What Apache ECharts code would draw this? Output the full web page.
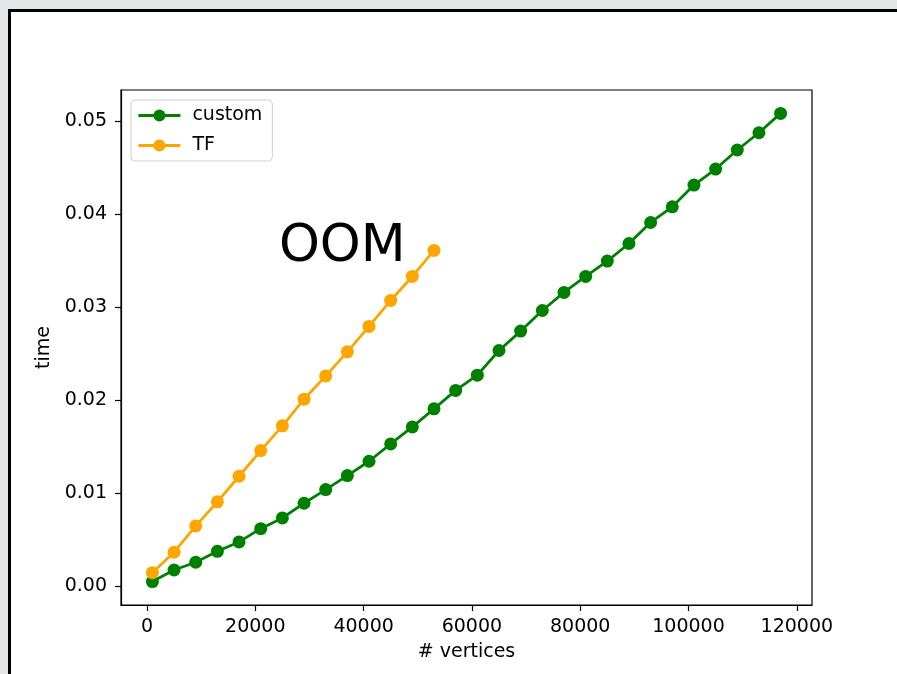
<!DOCTYPE html>
<html>
<head>
<meta charset="utf-8">
<title>custom vs TF</title>
<script src="https://cdn.jsdelivr.net/npm/echarts@6/dist/echarts.min.js"></script>
<style>
  html, body { margin: 0; padding: 0; width: 897px; height: 674px; overflow: hidden; background: #e5e6e8; }
  #frame {
    position: absolute; left: 8px; top: 9px; width: 1200px; height: 1000px;
    background: #fff; border-top: 3px solid #000; border-left: 3px solid #000;
  }
  #chart { position: absolute; left: 0; top: 0; width: 897px; height: 674px; }
</style>
</head>
<body>
<div id="frame"></div>
<div id="chart"></div>
<script>
// number of vertices per run
const vertices = [1000, 5000, 9000, 13000, 17000, 21000, 25000, 29000, 33000, 37000,
                  41000, 45000, 49000, 53000, 57000, 61000, 65000, 69000, 73000, 77000,
                  81000, 85000, 89000, 93000, 97000, 101000, 105000, 109000, 113000, 117000];
// run time of the custom implementation
const customTime = [0.00047, 0.00172, 0.00255, 0.00373, 0.00474, 0.00617, 0.00732, 0.00890, 0.01037, 0.01188,
                    0.01342, 0.01529, 0.01712, 0.01906, 0.02105, 0.02269, 0.02534, 0.02743, 0.02965, 0.03159,
                    0.03331, 0.03497, 0.03686, 0.03912, 0.04081, 0.04315, 0.04487, 0.04692, 0.04878, 0.05086];
// run time of TF, which runs out of memory past 53000 vertices
const tfTime = [0.00143, 0.00363, 0.00646, 0.00905, 0.01181, 0.01457, 0.01723, 0.02010, 0.02261, 0.02520,
                0.02793, 0.03073, 0.03331, 0.03611];
const xTicks = [0, 20000, 40000, 60000, 80000, 100000, 120000];
const yTicks = [0, 0.01, 0.02, 0.03, 0.04, 0.05];
const oomNote = { x: 25000, y: 0.035, text: 'OOM' };

const FONT = 'DejaVu Sans';
const xs = vertices, ys = customTime.concat(tfTime);
const xMinD = Math.min(...xs), xMaxD = Math.max(...xs);
const yMinD = Math.min(...ys), yMaxD = Math.max(...ys);
const xPad = (xMaxD - xMinD) * 0.05, yPad = (yMaxD - yMinD) * 0.05;

const pairs = (vals) => vals.map((v, i) => [vertices[i], v]);

const axisCommon = {
  axisLine: { show: true, onZero: false, lineStyle: { color: '#000', width: 1.2 } },
  splitLine: { show: false }
};

const chart = echarts.init(document.getElementById('chart'), null, { renderer: 'canvas' });
chart.setOption({
  animation: false,
  textStyle: { fontFamily: FONT },
  grid: {
    left: 121, right: 85, top: 90, bottom: 69,
    show: true, borderColor: '#000', borderWidth: 1.2, backgroundColor: 'transparent'
  },
  legend: {
    data: ['custom', 'TF'],
    orient: 'vertical',
    left: 131, top: 100,
    itemWidth: 42, itemHeight: 15, itemGap: 11,
    padding: [6, 10, 6, 6],
    backgroundColor: '#fff',
    borderColor: '#d0d0d0', borderWidth: 1, borderRadius: 4,
    lineStyle: { width: 2.8 },
    textStyle: { fontFamily: FONT, fontSize: 19, color: '#000', padding: [0, 0, 0, 7] }
  },
  xAxis: Object.assign({
    type: 'value',
    min: xMinD - xPad, max: xMaxD + xPad,
    name: '# vertices', nameLocation: 'middle', nameGap: 38,
    nameTextStyle: { fontFamily: FONT, fontSize: 19, color: '#000' },
    axisTick: { show: true, length: 6, lineStyle: { color: '#000', width: 1.2 }, customValues: xTicks },
    axisLabel: { fontFamily: FONT, fontSize: 19, color: '#000', margin: 13, customValues: xTicks,
                 formatter: (v) => String(Math.round(v)) }
  }, axisCommon),
  yAxis: Object.assign({
    type: 'value',
    min: yMinD - yPad, max: yMaxD + yPad,
    name: 'time', nameLocation: 'middle', nameGap: 58, nameRotate: 90,
    nameTextStyle: { fontFamily: FONT, fontSize: 19, color: '#000' },
    axisTick: { show: true, length: 6, lineStyle: { color: '#000', width: 1.2 }, customValues: yTicks },
    axisLabel: { fontFamily: FONT, fontSize: 19, color: '#000', margin: 14, customValues: yTicks,
                 padding: [5, 0, 0, 0], formatter: (v) => v.toFixed(2) }
  }, axisCommon),
  series: [
    {
      name: 'custom', type: 'line', data: pairs(customTime),
      symbol: 'circle', symbolSize: 13, showAllSymbol: true,
      itemStyle: { color: '#008000' }, lineStyle: { color: '#008000', width: 2.8 }, z: 2
    },
    {
      name: 'TF', type: 'line', data: pairs(tfTime),
      symbol: 'circle', symbolSize: 13, showAllSymbol: true,
      itemStyle: { color: '#ffa500' }, lineStyle: { color: '#ffa500', width: 2.8 }, z: 3
    }
  ]
});

// "OOM" note: its baseline sits on the data point, the glyphs rise above it
const [ox, oy] = chart.convertToPixel({ gridIndex: 0 }, [oomNote.x, oomNote.y]);
chart.setOption({
  graphic: [{
    type: 'text', x: ox - 3.5, y: oy - 39, silent: true, z: 10,
    style: {
      text: oomNote.text, fill: '#000', fontFamily: FONT, fontSize: 52,
      align: 'left', verticalAlign: 'top'
    }
  }]
});
</script>
</body>
</html>
